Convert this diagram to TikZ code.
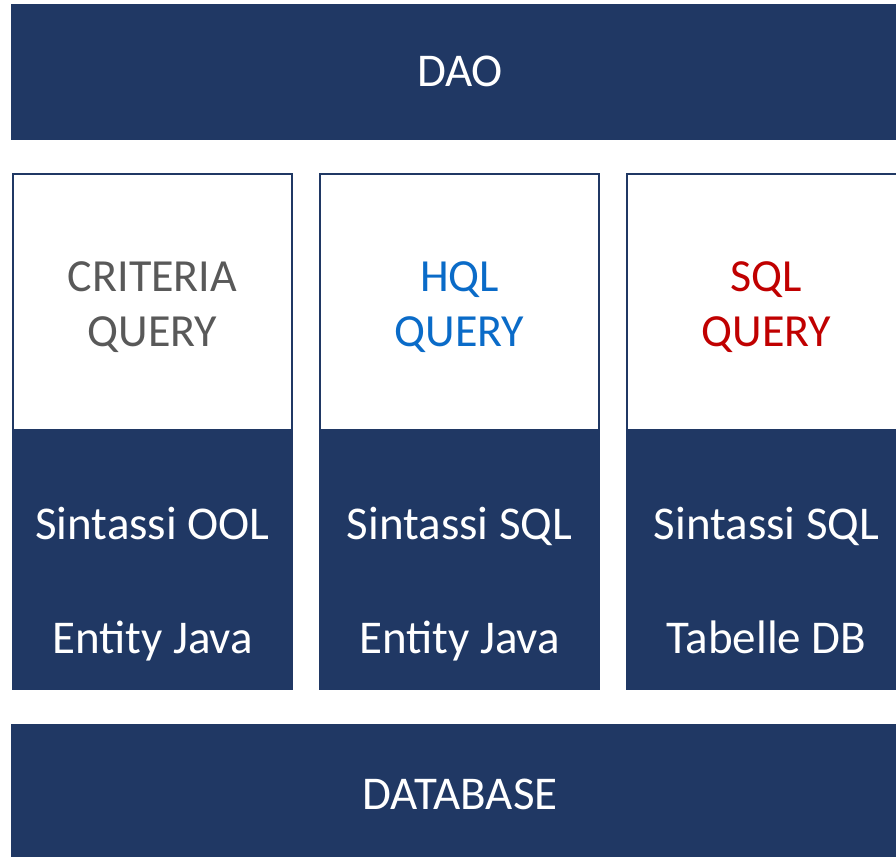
\documentclass[tikz,border=0pt]{standalone}
\usepackage{fontspec}
\setmainfont{Carlito}
\definecolor{navy}{HTML}{203864}
\definecolor{grayt}{HTML}{595959}
\definecolor{bluet}{HTML}{0A6BC8}
\definecolor{redt}{HTML}{C00000}
\begin{document}
\begin{tikzpicture}[x=1pt,y=-1pt,
  bar/.style={fill=navy,draw=none},
  wbox/.style={fill=white,draw=navy,line width=1.6pt},
  lbl/.style={anchor=base,inner sep=0pt,font=\fontsize{47}{52}\selectfont},
  qlbl/.style={anchor=base,inner sep=0pt,font=\fontsize{46}{52}\selectfont}]
\useasboundingbox (0,0) rectangle (896,856);
\clip (0,0) rectangle (896,856);
% DAO bar
\fill[bar] (11,4) rectangle (910,140);
\node[lbl,text=white] (dao) at (460,87) {DAO};
% columns
\foreach \x [count=\i] in {12,319,626}{
  \draw[wbox] (\x+0.8,174) rectangle (\x+281-0.8,430);
  \fill[bar] (\x,430) rectangle (\x+281,690);
}
% column texts
\node[qlbl,text=grayt] (c1a) at (152.5,291) {CRITERIA};
\node[qlbl,text=grayt] (c1b) at (152.5,346) {QUERY};
\node[qlbl,text=bluet] (c2a) at (459.5,291) {HQL};
\node[qlbl,text=bluet] (c2b) at (459.5,346) {QUERY};
\node[qlbl,text=redt] (c3a) at (766.5,291) {SQL};
\node[qlbl,text=redt] (c3b) at (766.5,346) {QUERY};
\node[lbl,text=white] (s1) at (152.5,539) {Sintassi OOL};
\node[lbl,text=white] (e1) at (152.5,653) {Entity Java};
\node[lbl,text=white] (s2) at (459.5,539) {Sintassi SQL};
\node[lbl,text=white] (e2) at (459.5,653) {Entity Java};
\node[lbl,text=white] (s3) at (766.5,539) {Sintassi SQL};
\node[lbl,text=white] (e3) at (766.5,653) {Tabelle DB};
% DATABASE bar
\fill[bar] (11,724) rectangle (910,870);
\node[lbl,text=white] (db) at (460,809) {DATABASE};
\end{tikzpicture}
\end{document}
